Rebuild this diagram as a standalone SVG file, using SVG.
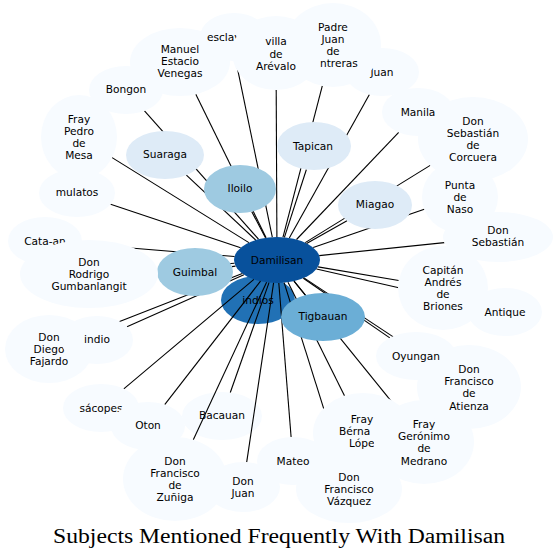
<svg xmlns="http://www.w3.org/2000/svg" width="559" height="559" viewBox="0 0 559 559">
<style>
.n0{fill:#f7fbff}.n1{fill:#deebf7}.n2{fill:#9ecae1}.n3{fill:#6baed6}.n4{fill:#2171b5}.n5{fill:#08519c}
text{font-family:"DejaVu Sans",sans-serif;font-size:10.6px;text-anchor:middle;fill:#000}
text.s{text-anchor:start}
#edges line{stroke:#000;stroke-width:1.1}
.title{font-family:"Liberation Serif",serif;font-size:20px}
</style>
<rect width="559" height="559" fill="#fff"/>
<g id="indios"><ellipse class="n4" cx="258" cy="300" rx="37" ry="24"/><text x="258" y="304">indios</text></g>
<g id="Damilisan"><ellipse class="n5" cx="277" cy="260" rx="43" ry="23"/><text x="277" y="264">Damilisan</text></g>
<g id="Bacauan"><ellipse class="n0" cx="222" cy="416" rx="40" ry="24"/><text x="222" y="419">Bacauan</text></g>
<g id="edges">
<line x1="294.0" y1="281.1" x2="305.4" y2="295.2"/>
<line x1="235.5" y1="266.1" x2="232.0" y2="266.6"/>
<line x1="265.5" y1="237.8" x2="251.8" y2="211.7"/>
<line x1="255.7" y1="240.0" x2="186.4" y2="175.1"/>
<line x1="284.4" y1="237.3" x2="306.4" y2="169.5"/>
<line x1="306.6" y1="243.4" x2="347.0" y2="220.7"/>
<line x1="272.3" y1="237.1" x2="235.9" y2="60.8"/>
<line x1="266.1" y1="237.7" x2="195.8" y2="94.3"/>
<line x1="258.5" y1="239.2" x2="144.5" y2="110.8"/>
<line x1="276.9" y1="237.0" x2="276.2" y2="90.0"/>
<line x1="283.0" y1="237.2" x2="322.3" y2="85.9"/>
<line x1="289.3" y1="238.0" x2="369.4" y2="94.6"/>
<line x1="296.5" y1="239.5" x2="398.7" y2="132.3"/>
<line x1="305.2" y1="242.6" x2="430.2" y2="165.4"/>
<line x1="248.9" y1="242.6" x2="112.1" y2="157.6"/>
<line x1="240.6" y1="247.8" x2="110.6" y2="204.2"/>
<line x1="234.5" y1="256.5" x2="81.7" y2="244.0"/>
<line x1="234.4" y1="263.2" x2="159.2" y2="268.8"/>
<line x1="313.2" y1="247.6" x2="424.3" y2="209.3"/>
<line x1="319.2" y1="255.6" x2="444.4" y2="242.6"/>
<line x1="318.0" y1="266.9" x2="398.7" y2="280.5"/>
<line x1="316.5" y1="269.0" x2="470.1" y2="304.0"/>
<line x1="303.3" y1="278.2" x2="389.8" y2="337.9"/>
<line x1="304.0" y1="277.9" x2="428.8" y2="360.4"/>
<line x1="294.0" y1="281.1" x2="395.6" y2="406.6"/>
<line x1="288.0" y1="282.2" x2="344.5" y2="395.8"/>
<line x1="284.1" y1="282.7" x2="338.5" y2="455.7"/>
<line x1="278.8" y1="283.0" x2="291.1" y2="437.0"/>
<line x1="273.6" y1="282.9" x2="246.7" y2="462.1"/>
<line x1="266.6" y1="282.3" x2="193.3" y2="439.7"/>
<line x1="269.0" y1="282.6" x2="230.3" y2="392.5"/>
<line x1="260.5" y1="281.2" x2="164.7" y2="404.6"/>
<line x1="253.9" y1="279.4" x2="123.8" y2="388.8"/>
<line x1="242.3" y1="273.6" x2="88.3" y2="333.7"/>
<line x1="243.9" y1="274.7" x2="127.0" y2="326.7"/>
</g>
<g id="Guimbal"><ellipse class="n2" cx="195" cy="272" rx="38" ry="24"/><text x="195" y="276">Guimbal</text></g>
<g id="Iloilo"><ellipse class="n2" cx="240" cy="189" rx="36" ry="24"/><text x="240" y="192">Iloilo</text></g>
<g id="Suaraga"><ellipse class="n1" cx="165" cy="155" rx="39" ry="24"/><text x="165" y="158">Suaraga</text></g>
<g id="Tapican"><ellipse class="n1" cx="314" cy="146" rx="37" ry="24"/><text x="313" y="150">Tapican</text></g>
<g id="Miagao"><ellipse class="n1" cx="375" cy="205" rx="37" ry="24"/><text x="375" y="208">Miagao</text></g>
<g id="Tigbauan"><ellipse class="n3" cx="323" cy="317" rx="42" ry="24"/><text x="323" y="320">Tigbauan</text></g>
<g id="Cata-an"><ellipse class="n0" cx="45" cy="241" rx="37" ry="24"/><text x="45" y="245">Cata-an</text></g>
<g id="DonRodrigoGumbanlangit"><ellipse class="n0" cx="89" cy="274" rx="69" ry="34"/><text x="89" y="265.6">Don</text><text x="89" y="277.8">Rodrigo</text><text x="89" y="290">Gumbanlangit</text></g>
<g id="mulatos"><ellipse class="n0" cx="77" cy="193" rx="38" ry="24"/><text x="77" y="196">mulatos</text></g>
<g id="FrayPedrodeMesa"><ellipse class="n0" cx="79" cy="137" rx="38" ry="42"/><text x="79" y="122.5">Fray</text><text x="79" y="134.7">Pedro</text><text x="79" y="146.9">de</text><text x="79" y="159.1">Mesa</text></g>
<g id="Bongon"><ellipse class="n0" cx="126" cy="90" rx="37" ry="24"/><text x="126" y="93">Bongon</text></g>
<g id="ManuelEstacioVenegas"><ellipse class="n0" cx="180" cy="62" rx="50" ry="34"/><text x="180" y="52.6">Manuel</text><text x="180" y="64.8">Estacio</text><text x="180" y="77">Venegas</text></g>
<g id="esclavos"><ellipse class="n0" cx="234" cy="37" rx="34" ry="24"/><text class="s" x="207" y="41">esclav</text></g>
<g id="Juan"><ellipse class="n0" cx="382" cy="72" rx="37" ry="24"/><text x="382" y="76">Juan</text></g>
<g id="PadreJuandeContreras"><ellipse class="n0" cx="333" cy="45" rx="48" ry="42"/><text x="333" y="30.7">Padre</text><text x="333" y="42.9">Juan</text><text x="333" y="55.1">de</text><text class="s" x="320" y="67.3">ntreras</text></g>
<g id="villadeArevalo"><ellipse class="n0" cx="276" cy="53" rx="44" ry="37"/><text x="276" y="45.4">villa</text><text x="276" y="57.6">de</text><text x="276" y="69.8">Arévalo</text></g>
<g id="DonSebastiandeCorcuera"><ellipse class="n0" cx="473" cy="139" rx="55" ry="42"/><text x="473" y="124.5">Don</text><text x="473" y="136.7">Sebastián</text><text x="473" y="148.9">de</text><text x="473" y="161.1">Corcuera</text></g>
<g id="Manila"><ellipse class="n0" cx="418" cy="112" rx="36" ry="24"/><text x="418" y="116">Manila</text></g>
<g id="PuntadeNaso"><ellipse class="n0" cx="460" cy="197" rx="38" ry="36"/><text x="460" y="188.6">Punta</text><text x="460" y="200.8">de</text><text x="460" y="213">Naso</text></g>
<g id="DonSebastian"><ellipse class="n0" cx="498" cy="237" rx="55" ry="25"/><text x="498" y="234">Don</text><text x="498" y="246.2">Sebastián</text></g>
<g id="CapitanAndresdeBriones"><ellipse class="n0" cx="443" cy="288" rx="45" ry="42"/><text x="443" y="273.5">Capitán</text><text x="443" y="285.7">Andrés</text><text x="443" y="297.9">de</text><text x="443" y="310.1">Briones</text></g>
<g id="Antique"><ellipse class="n0" cx="505" cy="312" rx="37" ry="24"/><text x="505" y="316">Antique</text></g>
<g id="FrayBernaLope"><ellipse class="n0" cx="363" cy="433" rx="50" ry="40"/><text x="362" y="422.6">Fray</text><text class="s" x="339" y="434.8">Bérna</text><text class="s" x="349" y="447">Lópe</text></g>
<g id="FrayGeronimodeMedrano"><ellipse class="n0" cx="424" cy="442" rx="50" ry="42"/><text x="424" y="428">Fray</text><text x="424" y="440.2">Gerónimo</text><text x="424" y="452.4">de</text><text x="424" y="464.6">Medrano</text></g>
<g id="DonFranciscodeAtienza"><ellipse class="n0" cx="469" cy="387" rx="52" ry="42"/><text x="469" y="373">Don</text><text x="469" y="385.2">Francisco</text><text x="469" y="397.4">de</text><text x="469" y="409.6">Atienza</text></g>
<g id="Oyungan"><ellipse class="n0" cx="416" cy="356" rx="40" ry="24"/><text x="416" y="360">Oyungan</text></g>
<g id="DonFranciscoVazquez"><ellipse class="n0" cx="349" cy="489" rx="53" ry="34"/><text x="349" y="480.6">Don</text><text x="349" y="492.8">Francisco</text><text x="349" y="505">Vázquez</text></g>
<g id="DonFranciscodeZuniga"><ellipse class="n0" cx="175" cy="479" rx="52" ry="42"/><text x="175" y="464.5">Don</text><text x="175" y="476.7">Francisco</text><text x="175" y="488.9">de</text><text x="175" y="501.1">Zuñiga</text></g>
<g id="DonJuan"><ellipse class="n0" cx="243" cy="487" rx="37" ry="25"/><text x="243" y="484.5">Don</text><text x="243" y="496.7">Juan</text></g>
<g id="Mateo"><ellipse class="n0" cx="293" cy="461" rx="36" ry="24"/><text x="293" y="465">Mateo</text></g>
<g id="sacopes"><ellipse class="n0" cx="101" cy="408" rx="38" ry="24"/><text x="101" y="412">sácopes</text></g>
<g id="Oton"><ellipse class="n0" cx="148" cy="426" rx="37" ry="24"/><text x="148" y="429">Oton</text></g>
<g id="DonDiegoFajardo"><ellipse class="n0" cx="49" cy="349" rx="44" ry="34"/><text x="49" y="340.6">Don</text><text x="49" y="352.8">Diego</text><text x="49" y="365">Fajardo</text></g>
<g id="indio"><ellipse class="n0" cx="97" cy="340" rx="36" ry="24"/><text x="97" y="343">indio</text></g>
<text class="title" x="279" y="543" textLength="452" lengthAdjust="spacingAndGlyphs">Subjects Mentioned Frequently With Damilisan</text>
</svg>
